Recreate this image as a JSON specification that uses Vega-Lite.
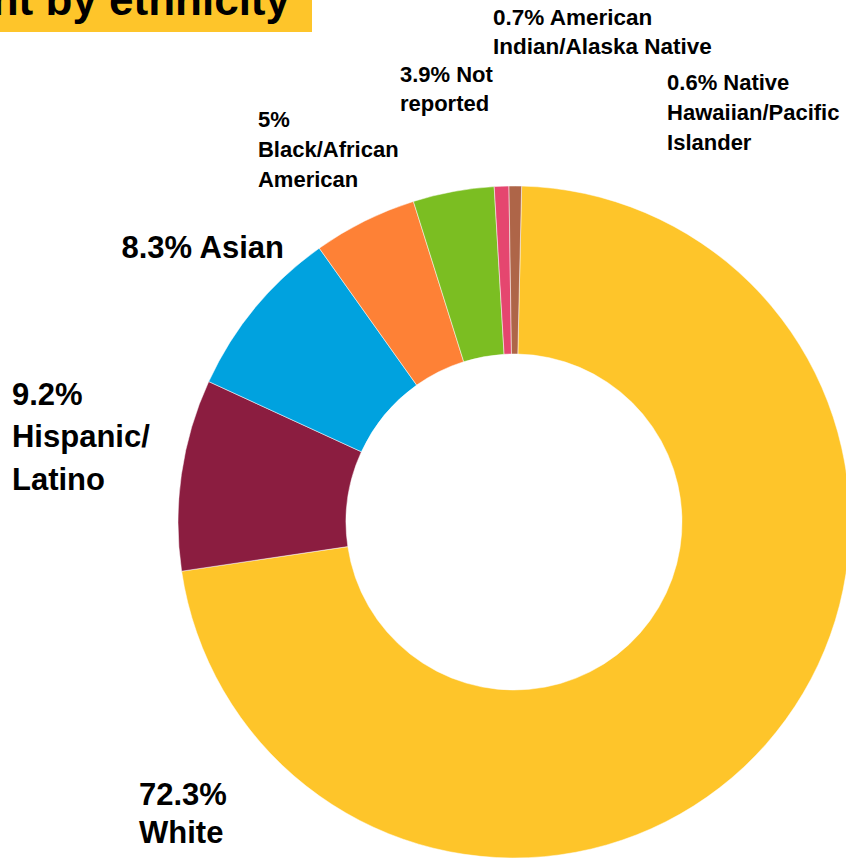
{
  "$schema": "https://vega.github.io/schema/vega-lite/v6.json",
  "padding": 0,
  "background": "white",
  "bounds": "flush",
  "spacing": 154,
  "config": {"view": {"stroke": null}, "font": "Liberation Sans"},
  "vconcat": [
    {
      "width": 312,
      "height": 32,
      "view": {"fill": "#FEC52A", "stroke": null},
      "data": {"values": [{"title": "Student enrollment by ethnicity"}]},
      "mark": {"type": "text", "clip": true, "align": "right", "baseline": "alphabetic", "x": 290, "y": 15, "fontSize": 44, "fontWeight": "bold", "font": "Liberation Sans", "fill": "black"},
      "encoding": {"text": {"field": "title"}}
    },
    {
      "width": 1028,
      "height": 672,
      "data": {"values": [
        {"ethnicity": "White", "percent": 72.3, "label": "72.3%\nWhite"},
        {"ethnicity": "Hispanic/Latino", "percent": 9.2, "label": "9.2%\nHispanic/\nLatino"},
        {"ethnicity": "Asian", "percent": 8.3, "label": "8.3% Asian"},
        {"ethnicity": "Black/African American", "percent": 5, "label": "5%\nBlack/African\nAmerican"},
        {"ethnicity": "Not reported", "percent": 3.9, "label": "3.9% Not\nreported"},
        {"ethnicity": "American Indian/Alaska Native", "percent": 0.7, "label": "0.7% American\nIndian/Alaska Native"},
        {"ethnicity": "Native Hawaiian/Pacific Islander", "percent": 0.6, "label": "0.6% Native\nHawaiian/Pacific\nIslander"}
      ]},
      "transform": [
        {"window": [{"op": "row_number", "as": "idx"}]},
        {"stack": "percent", "groupby": [], "sort": [{"field": "idx", "order": "ascending"}], "as": ["p0", "p1"]}
      ],
      "layer": [
        {
          "mark": {"type": "arc", "innerRadius": 168, "outerRadius": 336, "stroke": "white", "strokeWidth": 0.5},
          "encoding": {
            "theta": {"field": "p0", "type": "quantitative", "stack": null, "scale": {"domain": [0, 100], "range": [0.0227, 6.3059]}},
            "theta2": {"field": "p1"},
            "color": {
              "field": "ethnicity", "type": "nominal", "legend": null,
              "scale": {
                "domain": ["White", "Hispanic/Latino", "Asian", "Black/African American", "Not reported", "American Indian/Alaska Native", "Native Hawaiian/Pacific Islander"],
                "range": ["#FEC52A", "#8B1D40", "#00A2DF", "#FE8136", "#7BBE22", "#E5466F", "#AE6548"]
              }
            }
          }
        },
        {
          "transform": [{"filter": "datum.ethnicity === 'White'"}],
          "mark": {"type": "text", "radius": 370, "align": "left", "baseline": "alphabetic", "fontSize": 31, "fontWeight": "bold", "lineHeight": 38, "lineBreak": "\n", "dx": -383.4, "dy": 652.9, "fill": "black"},
          "encoding": {"theta": {"field": "p0", "type": "quantitative", "stack": null}, "text": {"field": "label"}}
        },
        {
          "transform": [{"filter": "datum.ethnicity === 'Hispanic/Latino'"}],
          "mark": {"type": "text", "radius": 370, "align": "left", "baseline": "alphabetic", "fontSize": 31, "fontWeight": "bold", "lineHeight": 42.5, "lineBreak": "\n", "dx": -136.0, "dy": -171.2, "fill": "black"},
          "encoding": {"theta": {"field": "p0", "type": "quantitative", "stack": null}, "text": {"field": "label"}}
        },
        {
          "transform": [{"filter": "datum.ethnicity === 'Asian'"}],
          "mark": {"type": "text", "radius": 370, "align": "right", "baseline": "alphabetic", "fontSize": 31, "fontWeight": "bold", "lineHeight": 38, "lineBreak": "\n", "dx": 106.1, "dy": -109.4, "fill": "black"},
          "encoding": {"theta": {"field": "p0", "type": "quantitative", "stack": null}, "text": {"field": "label"}}
        },
        {
          "transform": [{"filter": "datum.ethnicity === 'Black/African American'"}],
          "mark": {"type": "text", "radius": 370, "align": "left", "baseline": "alphabetic", "fontSize": 22, "fontWeight": "bold", "lineHeight": 30, "lineBreak": "\n", "dx": -41.6, "dy": -93.5, "fill": "black"},
          "encoding": {"theta": {"field": "p0", "type": "quantitative", "stack": null}, "text": {"field": "label"}}
        },
        {
          "transform": [{"filter": "datum.ethnicity === 'Not reported'"}],
          "mark": {"type": "text", "radius": 370, "align": "left", "baseline": "alphabetic", "fontSize": 22, "fontWeight": "bold", "lineHeight": 29.5, "lineBreak": "\n", "dx": -3.3, "dy": -87.0, "fill": "black"},
          "encoding": {"theta": {"field": "p0", "type": "quantitative", "stack": null}, "text": {"field": "label"}}
        },
        {
          "transform": [{"filter": "datum.ethnicity === 'American Indian/Alaska Native'"}],
          "mark": {"type": "text", "radius": 370, "align": "left", "baseline": "alphabetic", "fontSize": 22.5, "fontWeight": "bold", "lineHeight": 29, "lineBreak": "\n", "dx": 0.8, "dy": -127.6, "fill": "black"},
          "encoding": {"theta": {"field": "p0", "type": "quantitative", "stack": null}, "text": {"field": "label"}}
        },
        {
          "transform": [{"filter": "datum.ethnicity === 'Native Hawaiian/Pacific Islander'"}],
          "mark": {"type": "text", "radius": 370, "align": "left", "baseline": "alphabetic", "fontSize": 22, "fontWeight": "bold", "lineHeight": 30, "lineBreak": "\n", "dx": 158.6, "dy": -62.0, "fill": "black"},
          "encoding": {"theta": {"field": "p0", "type": "quantitative", "stack": null}, "text": {"field": "label"}}
        }
      ]
    }
  ]
}
